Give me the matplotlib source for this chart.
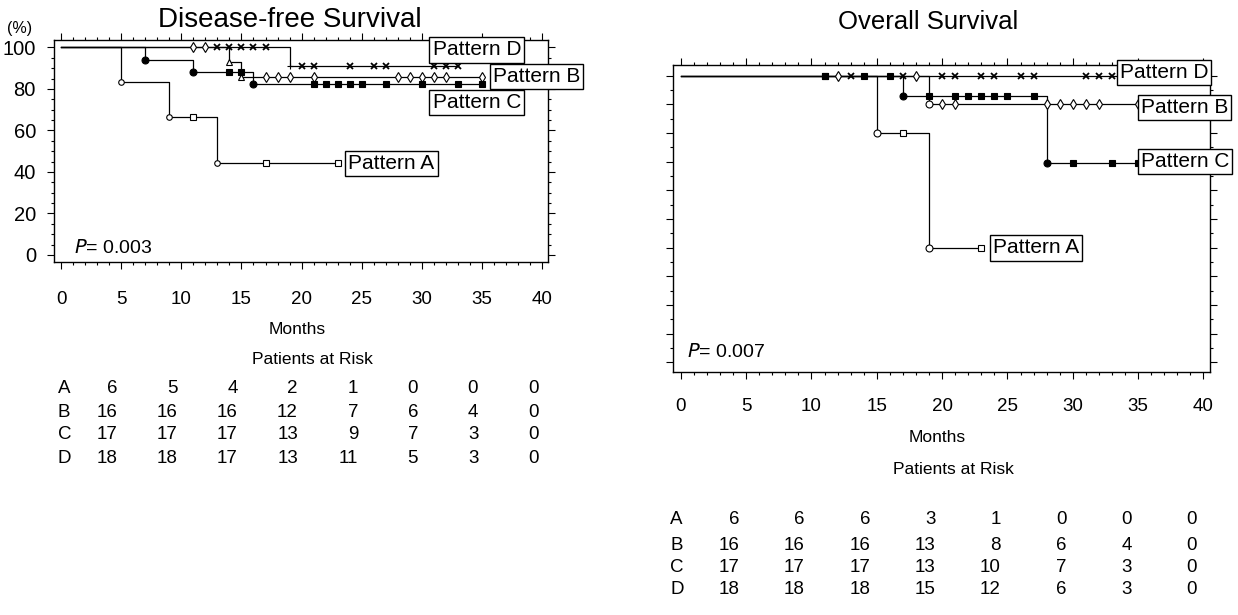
import numpy as np
import matplotlib
matplotlib.use("Agg")
import matplotlib.pyplot as plt
from matplotlib.ticker import MultipleLocator

plt.rcParams["font.family"] = ["Liberation Sans", "DejaVu Sans"]

# Disease-free survival: step times (months) and survival (%), censor times
dfs_a_t = [0, 5, 9, 13, 23]
dfs_a_s = [100, 83.3, 66.7, 44.4, 44.4]
dfs_a_cens = [11, 17, 23]
dfs_b_t = [0, 14, 15, 35]
dfs_b_s = [100, 93.0, 85.7, 85.7]
dfs_b_cens = [11, 12, 17, 18, 19, 21, 28, 29, 30, 31, 32, 35]
dfs_c_t = [0, 7, 11, 16, 35]
dfs_c_s = [100, 94.1, 88.2, 82.4, 82.4]
dfs_c_cens = [14, 15, 21, 22, 23, 24, 25, 27, 30, 33, 35]
dfs_d_t = [0, 19, 33]
dfs_d_s = [100, 90.9, 90.9]
dfs_d_cens = [13, 14, 15, 16, 17, 20, 21, 24, 26, 27, 31, 32, 33]

# Overall survival
os_a_t = [0, 15, 19, 23]
os_a_s = [100, 80, 40, 40]
os_a_cens = [11, 17, 23]
os_b_t = [0, 19, 35]
os_b_s = [100, 90, 90]
os_b_cens = [12, 18, 20, 21, 28, 29, 30, 31, 32, 35]
os_c_t = [0, 17, 28, 35]
os_c_s = [100, 92.9, 69.6, 69.6]
os_c_cens = [11, 14, 16, 19, 21, 22, 23, 24, 25, 27, 30, 33, 35]
os_d_t = [0, 34]
os_d_s = [100, 100]
os_d_cens = [13, 17, 20, 21, 23, 24, 26, 27, 31, 32, 33]

groups = ["A", "B", "C", "D"]
risk_months = [0, 5, 10, 15, 20, 25, 30, 35]
dfs_risk = [[6, 5, 4, 2, 1, 0, 0, 0],
            [16, 16, 16, 12, 7, 6, 4, 0],
            [17, 17, 17, 13, 9, 7, 3, 0],
            [18, 18, 17, 13, 11, 5, 3, 0]]
os_risk = [[6, 6, 6, 3, 1, 0, 0, 0],
           [16, 16, 16, 13, 8, 6, 4, 0],
           [17, 17, 17, 13, 10, 7, 3, 0],
           [18, 18, 18, 15, 12, 6, 3, 0]]

FS = 13.5


def km(ax, t, s, cens, ev, cm, filled, ms=5):
    ax.step(t, s, where="post", color="k", lw=0.9, zorder=2)
    fc = "k" if filled else "white"
    if len(t) > 2:
        ax.plot(t[1:-1], s[1:-1], ev, ls="none", ms=ms, mfc=fc, mec="k", mew=0.8, zorder=3)
    cy = [s[np.searchsorted(t, c, side="right") - 1] for c in cens]
    ax.plot(cens, cy, cm, ls="none", ms=ms, mfc=fc, mec="k", mew=1.3 if cm == "x" else 0.8, zorder=3)


def setup(ax, ylabels, ytick, xpad):
    ax.set_xlim(-0.6, 40.5)
    ax.set_ylim(-3.4, 103.6)
    ax.xaxis.set_major_locator(MultipleLocator(5))
    ax.xaxis.set_minor_locator(MultipleLocator(1))
    ax.yaxis.set_major_locator(MultipleLocator(ytick))
    ax.yaxis.set_minor_locator(MultipleLocator(5))
    ax.tick_params(which="both", direction="out", top=True, right=True, width=0.8)
    ax.tick_params(which="major", length=5)
    ax.tick_params(which="minor", length=2.5)
    ax.tick_params(axis="x", pad=xpad, labelsize=FS)
    ax.tick_params(axis="y", pad=8, labelsize=14.5)
    if not ylabels:
        ax.set_yticklabels([])
    for sp in ax.spines.values():
        sp.set_linewidth(1)


def label(ax, x, y, txt):
    ax.text(x, y, txt, ha="left", va="center", fontsize=15, clip_on=False, zorder=6,
            bbox=dict(boxstyle="square,pad=0.15", fc="white", ec="k", lw=1))


def risk_table(ax, risk, y_months, y_title, rows_y, xoff, xletter):
    tr = ax.get_xaxis_transform()
    ax.text(19.6, y_months, "Months", ha="center", va="center", fontsize=12.5, transform=tr)
    ax.text(20.9, y_title, "Patients at Risk", ha="center", va="center", fontsize=12.5, transform=tr)
    for g, vals, yy in zip(groups, risk, rows_y):
        ax.text(xletter, yy, g, ha="left", va="center", fontsize=FS, transform=tr, clip_on=False)
        for m, v in zip(risk_months, vals):
            ax.text(m + xoff, yy, str(v), ha="right", va="center", fontsize=FS,
                    transform=tr, clip_on=False)


fig = plt.figure(figsize=(12.38, 6.15), dpi=100)
ax1 = fig.add_axes([0.0436, 0.574, 0.399, 0.361])
ax2 = fig.add_axes([0.5436, 0.395, 0.4338, 0.499])

setup(ax1, True, 20, 16)
setup(ax2, False, 10, 14)

km(ax1, dfs_a_t, dfs_a_s, dfs_a_cens, "o", "s", False, 4)
km(ax1, dfs_b_t, dfs_b_s, dfs_b_cens, "^", "d", False, 5)
km(ax1, dfs_c_t, dfs_c_s, dfs_c_cens, "o", "s", True, 5)
km(ax1, dfs_d_t, dfs_d_s, dfs_d_cens, "+", "x", True, 5)

km(ax2, os_a_t, os_a_s, os_a_cens, "o", "s", False, 5)
km(ax2, os_b_t, os_b_s, os_b_cens, "o", "d", False, 5)
km(ax2, os_c_t, os_c_s, os_c_cens, "o", "s", True, 5)
km(ax2, os_d_t, os_d_s, os_d_cens, "+", "x", True, 5)

label(ax1, 30.9, 98.8, "Pattern D")
label(ax1, 35.9, 86.1, "Pattern B")
label(ax1, 30.9, 73.4, "Pattern C")
label(ax1, 23.9, 44.1, "Pattern A")
label(ax2, 33.6, 101.1, "Pattern D")
label(ax2, 35.2, 88.8, "Pattern B")
label(ax2, 35.2, 70.1, "Pattern C")
label(ax2, 23.9, 39.9, "Pattern A")

ax1.text(1.1, 3.4, r"$\it{P}$= 0.003", fontsize=14, va="center")
ax2.text(0.5, 3.5, r"$\it{P}$= 0.007", fontsize=14, va="center")

risk_table(ax1, dfs_risk, -0.306, -0.441, [-0.568, -0.676, -0.779, -0.883], 4.7, -0.3)
risk_table(ax2, os_risk, -0.212, -0.319, [-0.482, -0.564, -0.638, -0.710], 4.5, -0.8)

fig.text(290 / 1238, 1 - 20 / 615, "Disease-free Survival", ha="center", va="center", fontsize=20)
fig.text(928 / 1238, 1 - 22 / 615, "Overall Survival", ha="center", va="center", fontsize=18.5)
fig.text(20 / 1238, 1 - 28 / 615, "(%)", ha="center", va="center", fontsize=11.5)

fig.savefig("out.png", dpi=100)
